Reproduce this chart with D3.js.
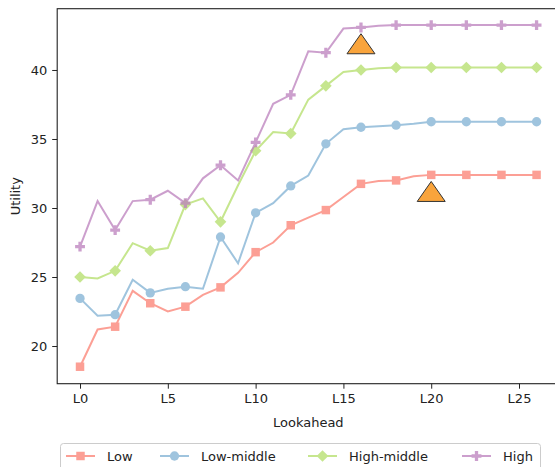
<!DOCTYPE html>
<meta charset="utf-8">
<style>
    body { margin: 0; background: #fff; }
    text { font-family: "DejaVu Sans", sans-serif; fill: #222; }
    .axis path, .axis line { stroke: #222; }
</style>
<body>
<div id="chart"></div>
<script src="https://d3js.org/d3.v7.min.js"></script>
<script>

    // lookahead steps L0..L26
    var steps = d3.range(0, 27);
    var tickSteps = [0, 5, 10, 15, 20, 25];
    var tickUtility = [20, 25, 30, 35, 40];

    var lowVals = [18.5, 21.2, 21.4, 24.0, 23.1, 22.5, 22.85, 23.7, 24.25, 25.3, 26.8, 27.5, 28.75, 29.3,
                   29.85, 30.8, 31.75, 31.95, 32.0, 32.3, 32.4, 32.4, 32.4, 32.4, 32.4, 32.4, 32.4];
    var lowMidVals = [23.45, 22.2, 22.27, 24.8, 23.85, 24.15, 24.3, 24.15, 27.9, 26.0, 29.65, 30.35, 31.6, 32.35,
                      34.65, 35.7, 35.85, 35.92, 36.0, 36.1, 36.25, 36.25, 36.25, 36.25, 36.25, 36.25, 36.25];
    var highMidVals = [25.0, 24.9, 25.45, 27.45, 26.9, 27.1, 30.25, 30.7, 29.0, 31.65, 34.15, 35.5, 35.4, 37.85,
                       38.85, 39.85, 40.0, 40.12, 40.18, 40.18, 40.18, 40.18, 40.18, 40.18, 40.18, 40.18, 40.18];
    var highVals = [27.2, 30.5, 28.4, 30.5, 30.6, 31.25, 30.35, 32.15, 33.1, 32.0, 34.75, 37.55, 38.2, 41.35,
                    41.25, 43.0, 43.08, 43.2, 43.25, 43.25, 43.25, 43.25, 43.25, 43.25, 43.25, 43.25, 43.25];

    var seriesNames = ["Low", "Low-middle", "High-middle", "High"];
    var seriesColors = ["#fb8072", "#80b1d3", "#b3de69", "#bc80bd"];

    // highlighted points (orange triangles)
    var markStep = [16, 20];
    var markVal = [41.9, 31.2];

    var series = [lowVals, lowMidVals, highMidVals, highVals].map(function (v, i) {
        return {name: seriesNames[i], color: seriesColors[i], values: v};
    });

    var W = 555, H = 467;
    var plot = {left: 57.2, right: 559.4, top: 8.7, bottom: 383.7};

    var x = d3.scaleLinear().domain([-1.3, 27.3]).range([plot.left, plot.right]);
    var y = d3.scaleLinear().domain([17.27, 44.44]).range([plot.bottom, plot.top]);

    var svg = d3.select("#chart").append("svg")
        .attr("width", W).attr("height", H);

    var symbols = [
        {type: d3.symbolSquare, size: 72, rot: 0},
        {type: d3.symbolCircle, size: 68, rot: 0},
        {type: d3.symbolSquare, size: 68, rot: 45},
        {type: d3.symbolCross, size: 54, rot: 0}
    ];

    var line = d3.line().x((d, i) => x(steps[i])).y(d => y(d));

    var g = svg.append("g");

    series.forEach(function (s, si) {
        var sg = g.append("g").attr("opacity", 0.75);
        sg.append("path")
          .attr("d", line(s.values))
          .attr("fill", "none")
          .attr("stroke", s.color)
          .attr("stroke-width", 2);

        var sym = d3.symbol().type(symbols[si].type).size(symbols[si].size);
        sg.selectAll("path.m")
          .data(s.values.map((v, i) => [steps[i], v]).filter(d => d[0] % 2 === 0))
          .enter().append("path")
          .attr("class", "m")
          .attr("d", sym)
          .attr("transform", d => "translate(" + x(d[0]) + "," + y(d[1]) + ") rotate(" + symbols[si].rot + ")")
          .attr("fill", s.color);
    });

    // triangles
    g.selectAll("path.tri")
     .data(markStep.map((s, i) => [s, markVal[i]]))
     .enter().append("path")
     .attr("class", "tri")
     .attr("d", "M0,-10 L14,10 L-14,10 Z")
     .attr("transform", d => "translate(" + x(d[0]) + "," + y(d[1]) + ")")
     .attr("fill", "#f9a43c")
     .attr("stroke", "#333")
     .attr("stroke-width", 1);

    // frame
    svg.append("rect")
       .attr("x", plot.left).attr("y", plot.top)
       .attr("width", plot.right - plot.left).attr("height", plot.bottom - plot.top)
       .attr("fill", "none").attr("stroke", "#222").attr("stroke-width", 1.1);

    var axisX = d3.axisBottom(x).tickValues(tickSteps).tickFormat(d => "L" + d).tickSize(5).tickPadding(5);
    var axisY = d3.axisLeft(y).tickValues(tickUtility).tickSize(5).tickPadding(5);

    svg.append("g").attr("class", "axis")
       .attr("transform", "translate(0," + plot.bottom + ")")
       .call(axisX)
       .call(a => a.select(".domain").remove())
       .selectAll("text").style("font-size", "13px").attr("fill", "#222");

    svg.append("g").attr("class", "axis")
       .attr("transform", "translate(" + plot.left + ",0)")
       .call(axisY)
       .call(a => a.select(".domain").remove())
       .selectAll("text").style("font-size", "13px").attr("fill", "#222");

    svg.append("text")
       .attr("x", (plot.left + plot.right) / 2).attr("y", 427)
       .attr("text-anchor", "middle")
       .style("font-size", "13px")
       .text("Lookahead");

    svg.append("text")
       .attr("transform", "translate(20," + ((plot.top + plot.bottom) / 2) + ") rotate(-90)")
       .attr("text-anchor", "middle")
       .style("font-size", "13px")
       .text("Utility");

    // legend
    var leg = svg.append("g");
    leg.append("rect")
       .attr("x", 60.5).attr("y", 443.5).attr("width", 480).attr("height", 40)
       .attr("rx", 3)
       .attr("fill", "#fff").attr("fill-opacity", 0.8)
       .attr("stroke", "#ccc");

    var legX = [66, 160, 308, 462];
    series.forEach(function (s, si) {
        var lg = leg.append("g").attr("transform", "translate(" + legX[si] + ",456)");
        var hg = lg.append("g").attr("opacity", 0.75);
        hg.append("line").attr("x1", 0).attr("x2", 29)
          .attr("stroke", s.color).attr("stroke-width", 2);
        hg.append("path")
          .attr("d", d3.symbol().type(symbols[si].type).size(symbols[si].size))
          .attr("transform", "translate(14.5,0) rotate(" + symbols[si].rot + ")")
          .attr("fill", s.color);
        lg.append("text").attr("x", 41).attr("dy", "0.35em")
          .style("font-size", "13px")
          .text(s.name);
    });

</script>
</body>
